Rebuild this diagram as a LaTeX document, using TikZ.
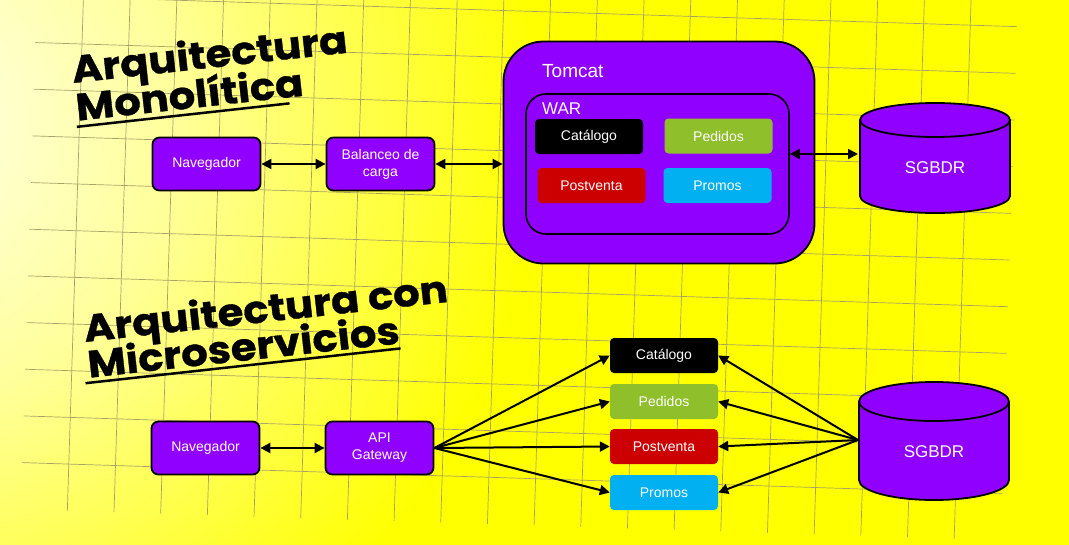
\documentclass[tikz,border=0pt]{standalone}
\usepackage{fontspec}
\setmainfont{Liberation Sans}
\newfontfamily\titlefont{Poppins}[FakeStretch=1.1, BoldFeatures={FakeBold=0.8}]
\usetikzlibrary{arrows.meta}
\definecolor{purp}{HTML}{9000FF}
\definecolor{grn}{HTML}{8FBF2A}
\definecolor{redb}{HTML}{CC0000}
\definecolor{cyanb}{HTML}{00B0F0}
\definecolor{ylw}{HTML}{FFFF00}
\definecolor{pale}{HTML}{FFFFF0}
\definecolor{palemid}{HTML}{FFFF98}
\definecolor{gridc}{HTML}{A8A268}
\pgfdeclareradialshading{bgshade}{\pgfpoint{0bp}{0bp}}{color(0bp)=(pale); color(5bp)=(palemid); color(11bp)=(ylw); color(50bp)=(ylw)}
\begin{document}
\begin{tikzpicture}[x=1pt,y=-1pt,
  purpbox/.style={draw=black, line width=1.8pt, fill=purp, rounded corners=7pt,
    minimum width=108pt, minimum height=53pt, text=white,
    font=\fontsize{14}{17}\selectfont, align=center, inner sep=0pt},
  svc/.style={rounded corners=4pt, minimum width=108pt, minimum height=35pt,
    text=white, font=\fontsize{14}{17}\selectfont, inner sep=0pt},
  tip/.tip={Triangle[length=10pt,width=10pt]},
  conn/.style={line width=2pt, -tip},
  dconn/.style={line width=2pt, tip-tip},
  gridline/.style={draw=gridc, line width=0.7pt},
  ttl/.style={font=\titlefont\bfseries\fontsize{38}{38}\selectfont, anchor=base west, inner sep=0pt},
  dbbody/.style={fill=purp, draw=black, line width=1.8pt},
  lbl/.style={text=white, inner sep=0pt}
]
\useasboundingbox (0,0) rectangle (1069,544);
% background
\fill[ylw] (0,0) rectangle (1069,544);
\begin{scope}
  \clip (0,0) rectangle (1069,544);
  \shade[shading=bgshade] (-120,120) circle (1500);
  % grid
  \begin{scope}[shift={(82,44)}, rotate=-1.8]
    \foreach \k in {0,...,19} \draw[gridline] (\k*46.7, -2*46.7) -- (\k*46.7, 10*46.7);
    \foreach \j in {-1,...,9} \draw[gridline] (-46.7, \j*46.7) -- (20*46.7, \j*46.7);
  \end{scope}
\end{scope}

% titles
\begin{scope}[shift={(73,83)}, rotate=6.3, transform shape]
  \node[ttl] (t1a) at (0,0) {Arquitectura};
  \node[ttl] (t1b) at (0,38) {Monolítica};
  \draw[line width=2.5pt] (-1,44) -- (213,44);
\end{scope}
\begin{scope}[shift={(85,342)}, rotate=6.3, transform shape]
  \node[ttl] (t2a) at (0,0) {Arquitectura con};
  \node[ttl] (t2b) at (0,36) {Microservicios};
  \draw[line width=2.5pt] (-4,41) -- (313,41);
\end{scope}

% ---------- monolithic ----------
\node[purpbox] (nav1) at (206.5,164) {Navegador};
\node[purpbox] (bal) at (380.5,164) {Balanceo de\\carga};
\node[draw=black, line width=1.8pt, fill=purp, rounded corners=40pt,
      minimum width=311pt, minimum height=222pt, inner sep=0pt] (tomcat) at (659,152.5) {};
\node[lbl, anchor=base west, font=\fontsize{19}{19}\selectfont] (tomcatl) at (542,77) {Tomcat};
\node[draw=black, line width=1.6pt, fill=purp, rounded corners=20pt,
      minimum width=263pt, minimum height=140pt, inner sep=0pt] (war) at (657.5,164) {};
\node[lbl, anchor=base west, font=\fontsize{17}{17}\selectfont] (warl) at (542,114) {WAR};
\node[svc, fill=black] (cat1) at (589,136.5) {Catálogo};
\node[svc, fill=grn] (ped1) at (718.5,136) {Pedidos};
\node[svc, fill=redb] (pos1) at (591.5,185.5) {Postventa};
\node[svc, fill=cyanb] (pro1) at (717.5,185.5) {Promos};

% database 1
\filldraw[dbbody] (935,196) ellipse [x radius=75, y radius=17];
\fill[purp] (860,120) rectangle (1010,196);
\draw[line width=1.8pt] (860,120) -- (860,196) (1010,120) -- (1010,196);
\filldraw[dbbody] (935,120) ellipse [x radius=75, y radius=17];
\node[lbl, font=\fontsize{17}{17}\selectfont] (db1) at (935,168) {SGBDR};
\coordinate (db1w) at (858,154);

\draw[dconn] (nav1.east) -- (bal.west);
\draw[dconn] (bal.east) -- (bal.east -| tomcat.west);
\draw[dconn] (war.east |- db1w) -- (db1w);

% ---------- microservices ----------
\node[purpbox] (nav2) at (205.5,448) {Navegador};
\node[purpbox] (api) at (379.5,448) {API\\Gateway};
\node[svc, fill=black] (cat2) at (664,355.5) {Catálogo};
\node[svc, fill=grn] (ped2) at (664,401.5) {Pedidos};
\node[svc, fill=redb] (pos2) at (664,446.5) {Postventa};
\node[svc, fill=cyanb] (pro2) at (664,492.5) {Promos};

% database 2
\filldraw[dbbody] (934,480) ellipse [x radius=75, y radius=20];
\fill[purp] (859,401.5) rectangle (1009,480);
\draw[line width=1.8pt] (859,401.5) -- (859,480) (1009,401.5) -- (1009,480);
\filldraw[dbbody] (934,401.5) ellipse [x radius=75, y radius=19.5];
\node[lbl, font=\fontsize{17}{17}\selectfont] (db2) at (934,452) {SGBDR};
\coordinate (db2w) at (858,440);

\draw[dconn] (nav2.east) -- (api.west);
\foreach \s in {cat2,ped2,pos2,pro2} {
  \draw[conn] (api.east) -- (\s.west);
  \draw[conn] (db2w) -- (\s.east);
}
\end{tikzpicture}
\end{document}
